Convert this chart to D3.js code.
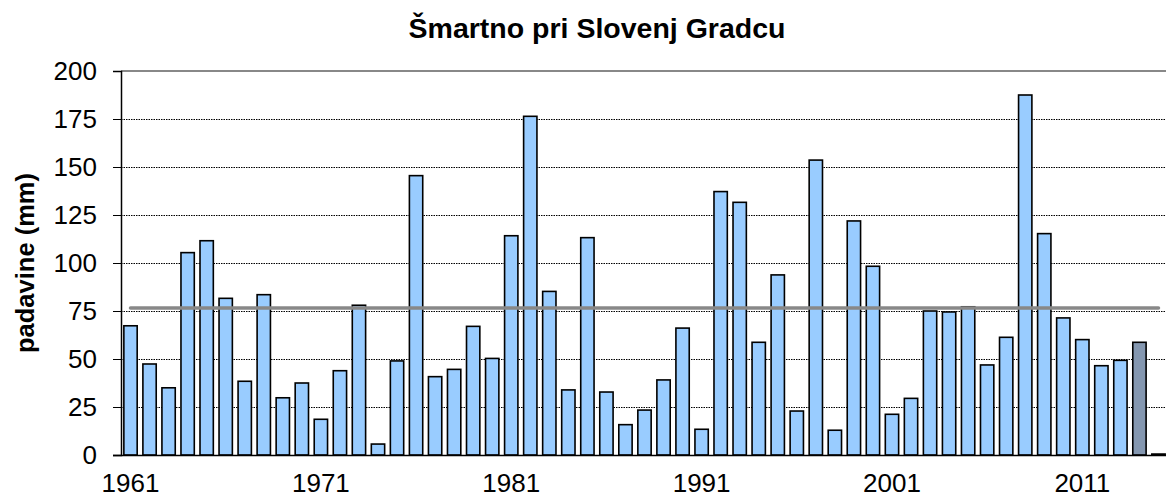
<!DOCTYPE html>
<html>
<head>
<meta charset="utf-8">
<script src="https://cdn.jsdelivr.net/npm/d3@7"></script>
<style>
  html, body { margin: 0; padding: 0; background: #fff; }
  svg { display: block; font-family: "Liberation Sans", Arial, sans-serif; }
</style>
</head>
<body>
<svg id="chart" width="1166" height="497"></svg>
<script>
const title = "Šmartno pri Slovenj Gradcu";
const yLabel = "padavine (mm)";
const years = d3.range(1961, 2016).map(String);
const values = [
  67.3, 47.4, 35.0, 105.4, 111.6, 81.6, 38.4, 83.5, 29.8, 37.5,
  18.6, 43.9, 78.0, 5.7, 49.0, 145.5, 40.8, 44.6, 67.0, 50.3,
  114.2, 176.4, 85.2, 33.9, 113.2, 32.8, 15.8, 23.4, 39.1, 66.1,
  13.4, 137.2, 131.6, 58.7, 93.8, 22.9, 153.6, 12.9, 121.9, 98.3,
  21.2, 29.5, 75.0, 74.5, 77.2, 46.9, 61.3, 187.5, 115.3, 71.4,
  60.1, 46.5, 49.3, 58.7, 0.5
];
const highlightYear = "2014";
const average = 76.6;
const yTicks = [0, 25, 50, 75, 100, 125, 150, 175, 200];
const xTickLabels = ["1961", "1971", "1981", "1991", "2001", "2011"];

(function () {
const data = years.map((y, i) => ({ year: y, value: values[i] }));

const svg = d3.select("#chart");
const pLeft = 121, pRight = 1168, pTop = 71, pBottom = 455;

const x = d3.scaleBand().domain(years).range([pLeft, pRight]).paddingInner(0.3).paddingOuter(0.15);
const y = d3.scaleLinear().domain([0, 200]).range([pBottom, pTop]);

// gridlines
svg.append("g").selectAll("line")
  .data(yTicks.filter(t => t > 0 && t < 200))
  .join("line")
  .attr("x1", pLeft).attr("x2", 1166)
  .attr("y1", d => y(d) + 0.5).attr("y2", d => y(d) + 0.5)
  .attr("stroke", "#000").attr("stroke-width", 1)
  .attr("stroke-dasharray", "1.5,1");

// top border at 200
svg.append("line")
  .attr("x1", pLeft).attr("x2", 1166)
  .attr("y1", y(200)).attr("y2", y(200))
  .attr("stroke", "#888").attr("stroke-width", 2);

// bars
svg.append("g").selectAll("rect")
  .data(data)
  .join("rect")
  .attr("x", d => x(d.year))
  .attr("width", x.bandwidth())
  .attr("y", d => y(d.value))
  .attr("height", d => y(0) - y(d.value))
  .attr("fill", d => d.year === highlightYear ? "#8497b0" : "#99ccff")
  .attr("stroke", "#000").attr("stroke-width", 1.6);

// average line
svg.append("line")
  .attr("x1", x(years[0]) + x.bandwidth() / 2)
  .attr("x2", x(years[years.length - 1]) + x.bandwidth() / 2)
  .attr("y1", y(average)).attr("y2", y(average))
  .attr("stroke", "#888").attr("stroke-width", 3.5)
  .attr("stroke-linecap", "round");

// y axis
const yAxis = d3.axisLeft(y).tickValues(yTicks).tickSize(8).tickPadding(16);
const gy = svg.append("g").attr("transform", `translate(${pLeft},0)`).call(yAxis);
gy.select(".domain").attr("stroke", "#000").attr("stroke-width", 1.5);
gy.selectAll(".tick line").attr("stroke", "#000").attr("stroke-width", 1);
gy.selectAll(".tick text").attr("font-size", 26).attr("fill", "#000")
  .attr("font-family", "Liberation Sans, Arial, sans-serif");

// x axis
const xAxis = d3.axisBottom(x).tickValues(xTickLabels).tickSize(0).tickPadding(19);
const gx = svg.append("g").attr("transform", `translate(0,${pBottom})`).call(xAxis);
gx.select(".domain").attr("d", `M${pLeft - 8},0.5H1166`).attr("stroke", "#000").attr("stroke-width", 1.5);
gx.selectAll(".tick text").attr("font-size", 26).attr("fill", "#000")
  .attr("font-family", "Liberation Sans, Arial, sans-serif");

// title
svg.append("text")
  .attr("x", 597).attr("y", 38)
  .attr("text-anchor", "middle")
  .attr("font-size", 28.5).attr("font-weight", "bold")
  .text(title);

// y label
svg.append("text")
  .attr("transform", `translate(34,263) rotate(-90)`)
  .attr("text-anchor", "middle")
  .attr("font-size", 25.5).attr("font-weight", "bold")
  .text(yLabel);
})();
</script>
</body>
</html>
